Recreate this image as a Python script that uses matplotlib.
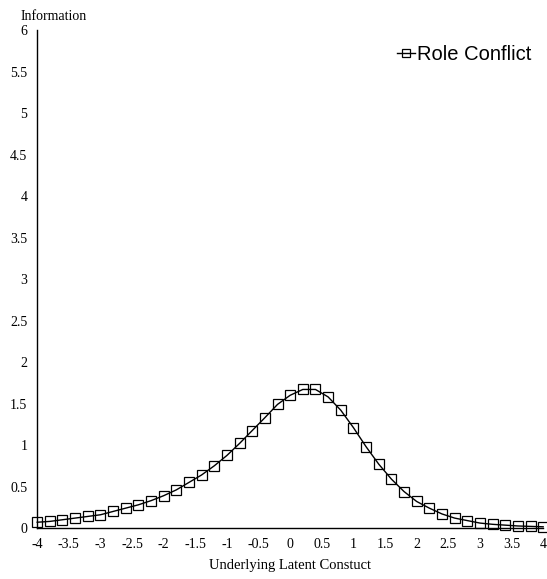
import numpy as np
import matplotlib.pyplot as plt

# Latent construct (theta) points and information values
theta = [-4.0, -3.8, -3.6, -3.4, -3.2, -3.0, -2.8, -2.6, -2.4, -2.2,
         -2.0, -1.8, -1.6, -1.4, -1.2, -1.0, -0.8, -0.6, -0.4, -0.2,
         0.0, 0.2, 0.4, 0.6, 0.8, 1.0, 1.2, 1.4, 1.6, 1.8,
         2.0, 2.2, 2.4, 2.6, 2.8, 3.0, 3.2, 3.4, 3.6, 3.8, 4.0]
info = [0.07, 0.08, 0.10, 0.12, 0.14, 0.16, 0.20, 0.24, 0.28, 0.33,
        0.39, 0.46, 0.55, 0.64, 0.75, 0.875, 1.02, 1.175, 1.33, 1.49,
        1.60, 1.67, 1.67, 1.58, 1.42, 1.21, 0.98, 0.77, 0.59, 0.44,
        0.32, 0.24, 0.17, 0.12, 0.09, 0.06, 0.045, 0.035, 0.025, 0.02, 0.015]
series_name = 'Role Conflict'
xticks = [-4, -3.5, -3, -2.5, -2, -1.5, -1, -0.5, 0, 0.5, 1, 1.5, 2, 2.5, 3, 3.5, 4]
yticks = [0, 0.5, 1, 1.5, 2, 2.5, 3, 3.5, 4, 4.5, 5, 5.5, 6]

fig = plt.figure(figsize=(5.47, 5.79), dpi=100)
ax = fig.add_axes([0.068, 0.088, 0.925, 0.86])

ax.plot(theta, info, color='black', linewidth=1.0, marker='s', markersize=7.5,
        markerfacecolor='none', markeredgecolor='black', markeredgewidth=0.9,
        clip_on=False, label=series_name)

ax.set_xlim(-4, 4)
ax.set_ylim(0, 6)
ax.set_xticks(xticks)
ax.set_yticks(yticks)
ax.set_xticklabels([f'{t:g}' for t in xticks], family='Liberation Serif', fontsize=10)
ax.set_yticklabels([f'{t:g}' for t in yticks], family='Liberation Serif', fontsize=10)
ax.tick_params(length=0, pad=7)
ax.spines['top'].set_visible(False)
ax.spines['right'].set_visible(False)
ax.spines['left'].set_linewidth(1.0)
ax.spines['bottom'].set_linewidth(1.0)

fig.text(0.037, 0.972, 'Information', family='Liberation Serif', fontsize=10, va='center')
fig.text(0.53, 0.012, 'Underlying Latent Constuct', family='Liberation Serif',
         fontsize=10.5, ha='center', va='bottom')

leg = ax.legend(loc='upper right', bbox_to_anchor=(1.013, 1.007), frameon=False,
                prop={'family': 'Liberation Sans', 'size': 14.5},
                handlelength=0.9, handletextpad=0.1, markerscale=0.75)

fig.savefig('out.png', dpi=100)
